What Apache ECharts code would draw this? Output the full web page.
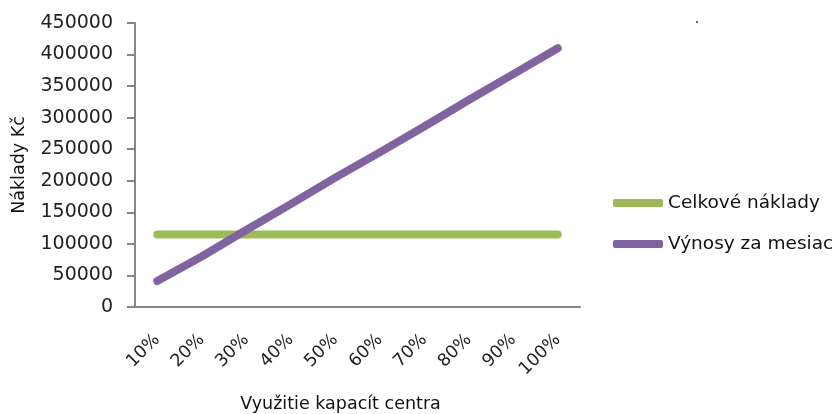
<!DOCTYPE html>
<html>
<head>
<meta charset="utf-8">
<script src="https://cdn.jsdelivr.net/npm/echarts@6/dist/echarts.min.js"></script>
<style>
  html, body { margin: 0; padding: 0; background: #fff; }
  #chart { width: 836px; height: 414px; }
</style>
</head>
<body>
<div id="chart"></div>
<script>
// data
var categories = ["10%", "20%", "30%", "40%", "50%", "60%", "70%", "80%", "90%", "100%"];
var naklady = [115000, 115000, 115000, 115000, 115000, 115000, 115000, 115000, 115000, 115000];
var vynosy = [41000, 80000, 122000, 163000, 205000, 245000, 286000, 328000, 369000, 410000];
var seriesNames = ["Celkové náklady", "Výnosy za mesiac"];

var font = "DejaVu Sans";
var myChart = echarts.init(document.getElementById("chart"));
var option = {
  animation: false,
  color: ["#9bbb59", "#8064a2"],
  textStyle: { fontFamily: font },
  grid: { left: 135, right: 256, top: 23, bottom: 107, outerBoundsMode: "none", containLabel: false },
  legend: {
    orient: "vertical",
    left: 608,
    top: 188,
    itemWidth: 50,
    itemHeight: 8,
    itemGap: 21,
    icon: "roundRect",
    textStyle: { fontFamily: font, fontSize: 18.5, color: "#111", lineHeight: 20 },
    data: seriesNames
  },
  xAxis: {
    type: "category",
    data: categories,
    boundaryGap: true,
    name: "Využitie kapacít centra",
    nameLocation: "middle",
    nameGap: 88,
    nameTextStyle: { fontFamily: font, fontSize: 17.5, color: "#111", padding: [0, 34, 0, 0] },
    axisLine: { lineStyle: { color: "#868686", width: 2 } },
    axisTick: { show: false },
    axisLabel: { rotate: 45, fontFamily: font, fontSize: 17.5, color: "#222", margin: 30 }
  },
  yAxis: {
    type: "value",
    min: 0,
    max: 450000,
    interval: 50000,
    name: "Náklady Kč",
    nameLocation: "middle",
    nameGap: 107,
    nameTextStyle: { fontFamily: font, fontSize: 17.5, color: "#111" },
    axisLine: { show: true, lineStyle: { color: "#868686", width: 2 } },
    axisTick: { show: true, length: 8, lineStyle: { color: "#868686", width: 2 } },
    splitLine: { show: false },
    axisLabel: {
      fontFamily: font, fontSize: 19, color: "#222", margin: 22,
      formatter: function (v) { return String(v); }
    }
  },
  graphic: [
    { type: "circle", left: 696, top: 21, shape: { r: 1 }, style: { fill: "#333" } }
  ],
  series: [
    {
      name: seriesNames[0],
      type: "line",
      data: naklady,
      showSymbol: false,
      lineStyle: { width: 8, cap: "round" }
    },
    {
      name: seriesNames[1],
      type: "line",
      data: vynosy,
      showSymbol: false,
      lineStyle: { width: 8, cap: "round", join: "round" }
    }
  ]
};
myChart.setOption(option);
</script>
</body>
</html>
